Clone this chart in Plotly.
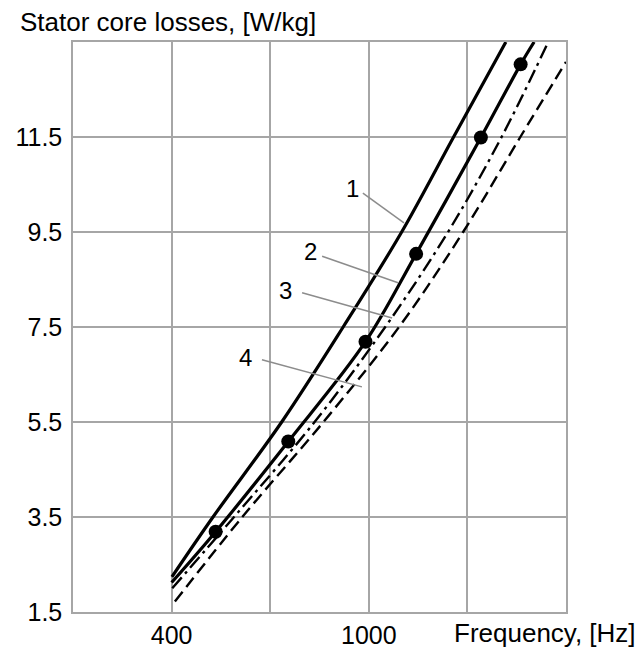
import plotly.graph_objects as go

# ---- data ----
freq_1 = [401, 526, 735, 922, 1100, 1258, 1417]
loss_1 = [2.24, 3.5, 5.5, 7.5, 9.5, 11.5, 13.5]

freq_2 = [400, 534, 755, 990, 1144, 1341, 1462, 1503]
loss_2 = [2.12, 3.19, 5.09, 7.19, 9.04, 11.49, 13.03, 13.5]

freq_2_markers = [534, 755, 990, 1144, 1341, 1462]
loss_2_markers = [3.19, 5.09, 7.19, 9.04, 11.49, 13.03]

freq_3 = [402, 590, 835, 1050, 1241, 1404, 1546]
loss_3 = [2.0, 3.5, 5.5, 7.5, 9.5, 11.5, 13.5]

freq_4 = [410, 615, 862, 1092, 1287, 1461, 1600]
loss_4 = [1.72, 3.5, 5.5, 7.5, 9.5, 11.5, 13.08]

x_ticks = [400, 700, 1000, 1300]
x_tick_labels = ["400", "", "1000", ""]
y_ticks = [1.5, 3.5, 5.5, 7.5, 9.5, 11.5]
y_tick_labels = ["1.5", "3.5", "5.5", "7.5", "9.5", "11.5"]

curve_labels = ["1", "2", "3", "4"]
label_x = [949, 824, 748, 626]
label_y = [10.41, 9.08, 8.26, 6.85]
leader_x0 = [982, 858, 797, 675]
leader_y0 = [10.32, 8.99, 8.22, 6.81]
leader_x1 = [1107, 1089, 1071, 979]
leader_y1 = [9.69, 8.43, 7.69, 6.24]

FONT = "Liberation Sans, Arial, sans-serif"
GRID = "#a6a6a6"
L, R, T, B = 73, 75, 42, 39
W, H = 641 - L - R, 651 - T - B

fig = go.Figure()
fig.add_trace(go.Scatter(x=freq_4, y=loss_4, mode="lines", line_shape="spline",
                         line=dict(color="black", width=2.4, dash="12px,6px")))
fig.add_trace(go.Scatter(x=freq_3, y=loss_3, mode="lines", line_shape="spline",
                         line=dict(color="black", width=2.4, dash="14px,5px,3px,5px")))
fig.add_trace(go.Scatter(x=freq_2, y=loss_2, mode="lines", line_shape="spline",
                         line=dict(color="black", width=3.2)))
fig.add_trace(go.Scatter(x=freq_1, y=loss_1, mode="lines", line_shape="spline",
                         line=dict(color="black", width=3.2)))
fig.add_trace(go.Scatter(x=freq_2_markers, y=loss_2_markers, mode="markers",
                         marker=dict(color="black", size=14)))

for i in range(len(curve_labels)):
    fig.add_shape(type="line", xref="x", yref="y",
                  x0=leader_x0[i], y0=leader_y0[i], x1=leader_x1[i], y1=leader_y1[i],
                  line=dict(color="#8c8c8c", width=1.5))
    fig.add_annotation(x=label_x[i], y=label_y[i], xref="x", yref="y", text=curve_labels[i],
                       showarrow=False, font=dict(size=24, color="black", family=FONT))

fig.add_annotation(x=(18 - L) / W, y=(612 - 22) / H, xref="paper", yref="paper",
                   text="Stator core losses, [W/kg]", showarrow=False,
                   xanchor="left", yanchor="middle",
                   font=dict(size=26, color="black", family=FONT))
fig.add_annotation(x=(638 - L) / W, y=(612 - 633) / H, xref="paper", yref="paper",
                   text="Frequency, [Hz]", showarrow=False, xanchor="right", yanchor="middle",
                   font=dict(size=26, color="black", family=FONT))

fig.update_layout(
    width=641, height=651,
    margin=dict(l=L, r=R, t=T, b=B),
    paper_bgcolor="white", plot_bgcolor="white",
    showlegend=False,
    font=dict(family=FONT, color="black", size=24),
)

fig.update_xaxes(range=[100, 1600], tickvals=x_ticks, ticktext=x_tick_labels,
                 showgrid=True, gridcolor=GRID, gridwidth=1.5,
                 showline=True, mirror=True, linecolor=GRID, linewidth=1.5,
                 zeroline=False, ticks="", automargin=False,
                 tickfont=dict(size=25, family=FONT, color="black"))
fig.update_yaxes(range=[1.5, 13.5], tickvals=y_ticks, ticktext=y_tick_labels,
                 showgrid=True, gridcolor=GRID, gridwidth=1.5,
                 showline=True, mirror=True, linecolor=GRID, linewidth=1.5,
                 zeroline=False, ticks="", automargin=False, ticklabelstandoff=4,
                 tickfont=dict(size=25, family=FONT, color="black"))

fig.write_html("out.html")
